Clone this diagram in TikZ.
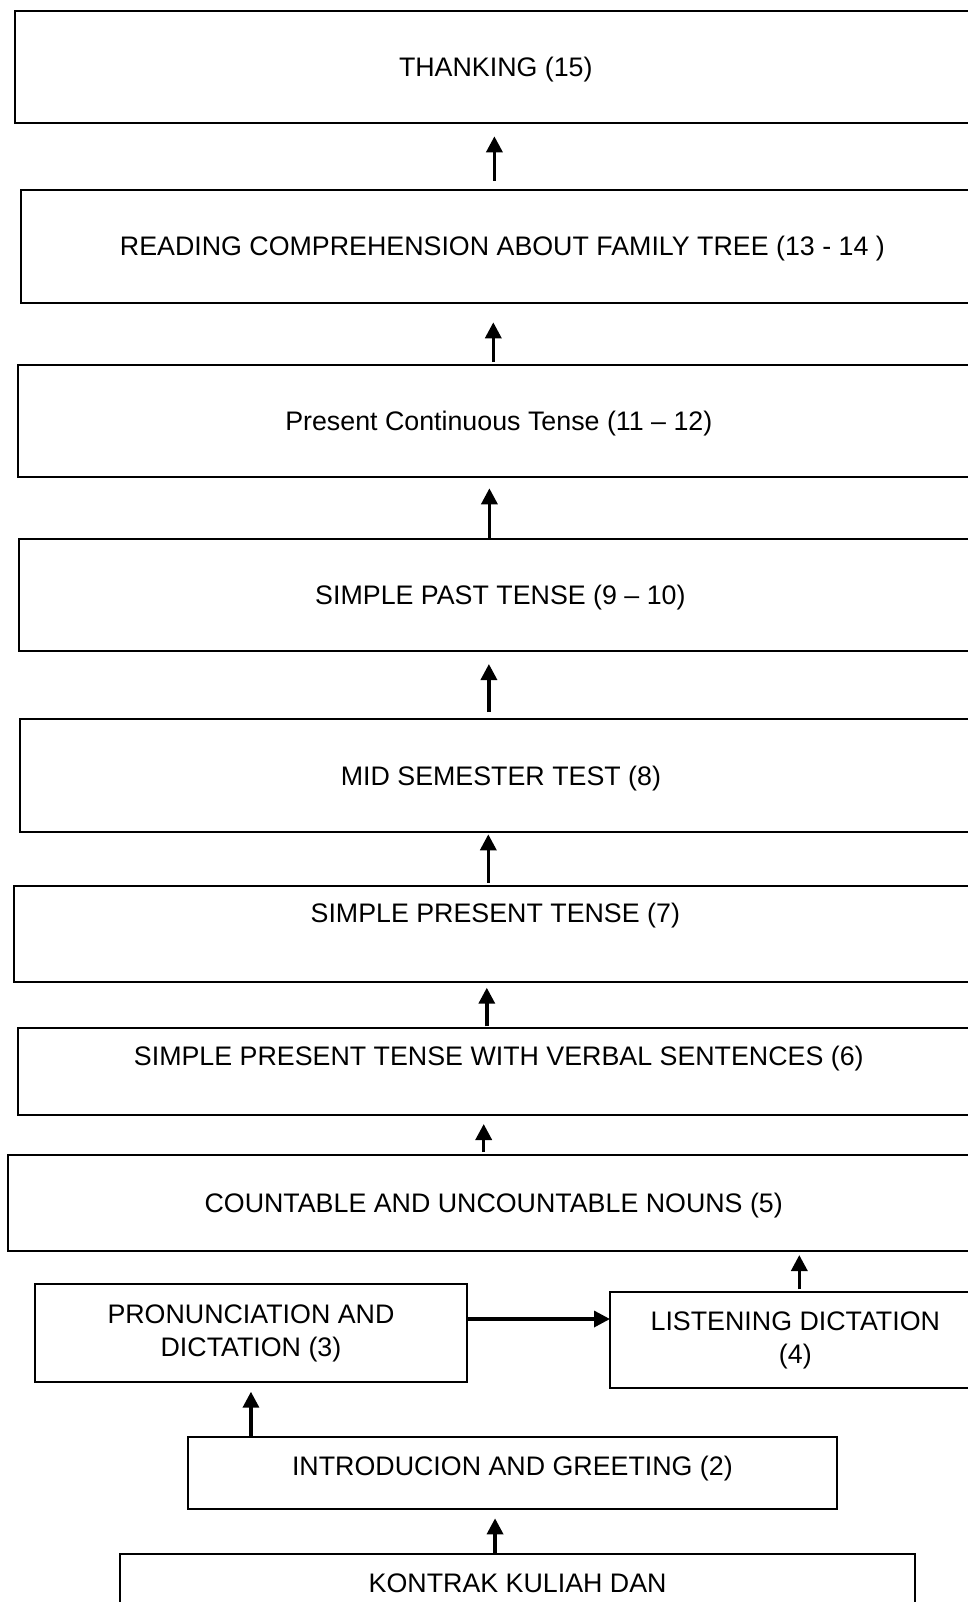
\documentclass[tikz,border=0pt]{standalone}
\usepackage{fontspec}
\setmainfont{Liberation Sans}
\usetikzlibrary{arrows.meta}
\begin{document}
\begin{tikzpicture}[
        x=1pt, y=-1pt,
        box/.style={rectangle, draw=black, line width=2pt, anchor=north west,
            inner sep=0pt, outer sep=0pt, font=\fontsize{26.8}{33}\selectfont},
        line/.style={text height=19.2pt, text depth=#1},
        line/.default=0pt,
        arrow/.style={-{Triangle[width=16pt,length=16pt]}, line width=3.4pt}
    ]
    \useasboundingbox (0,0) rectangle (968,1602);
    \clip (0,0) rectangle (968,1602);
    % Nodes
    \node[box, line, minimum width=962.2pt, minimum height=112.3pt] (thank) at (14.7,11) {THANKING (15)};
    \node[box, line, minimum width=962.2pt, minimum height=112.7pt] (read) at (21.3,190) {READING COMPREHENSION ABOUT FAMILY TREE (13 - 14 )};
    \node[box, line, minimum width=960.8pt, minimum height=112.3pt] (pres) at (18.4,365) {Present Continuous Tense (11 – 12)};
    \node[box, line, minimum width=962pt, minimum height=112pt] (past) at (19.4,539) {SIMPLE PAST TENSE (9 – 10)};
    \node[box, line, minimum width=961pt, minimum height=113.3pt] (mid) at (20.4,719) {MID SEMESTER TEST (8)};
    \node[box, line=41.8pt, minimum width=962pt, minimum height=96pt] (spres) at (14.3,885.7) {SIMPLE PRESENT TENSE (7)};
    \node[box, line=31.4pt, minimum width=960.8pt, minimum height=86.7pt] (verbal) at (18.4,1028.3) {SIMPLE PRESENT TENSE WITH VERBAL SENTENCES (6)};
    \node[box, line, minimum width=971pt, minimum height=96pt] (count) at (8.2,1155) {COUNTABLE AND UNCOUNTABLE NOUNS (5)};
    \node[box, align=center, minimum width=432.7pt, minimum height=97.4pt] (pron) at (34.6,1284.3) {PRONUNCIATION AND\\DICTATION (3)};
    \node[box, align=center, minimum width=370.6pt, minimum height=96pt] (listen) at (610,1292.3) {LISTENING DICTATION\\(4)};
    \node[box, line=14.8pt, minimum width=648.2pt, minimum height=72.3pt] (intro) at (188.3,1437) {INTRODUCION AND GREETING (2)};
    \node[box, line=39.2pt, minimum width=794.5pt, minimum height=96pt] (kontrak) at (120.4,1554) {KONTRAK KULIAH DAN};
    % Edges
    \draw[arrow, shorten <=9pt, shorten >=13pt] ([xshift=-8pt]read.north) -- ([xshift=-8pt]read.north |- thank.south);
    \draw[arrow, shorten <=3pt, shorten >=19.6pt] ([xshift=-5.5pt]pres.north) -- ([xshift=-5.5pt]pres.north |- read.south);
    \draw[arrow, shorten >=11pt] ([xshift=-11pt]past.north) -- ([xshift=-11pt]past.north |- pres.south);
    \draw[arrow, shorten <=7pt, shorten >=13pt] ([xshift=-12pt]mid.north) -- ([xshift=-12pt]mid.north |- past.south);
    \draw[arrow, shorten <=3pt, shorten >=2pt] ([xshift=-7pt]spres.north) -- ([xshift=-7pt]spres.north |- mid.south);
    \draw[arrow, shorten <=2pt, shorten >=6pt] ([xshift=-12pt]verbal.north) -- ([xshift=-12pt]verbal.north |- spres.south);
    \draw[arrow, shorten <=3pt, shorten >=9pt] ([xshift=-10pt]count.north) -- ([xshift=-10pt]count.north |- verbal.south);
    \draw[arrow, shorten <=3pt, shorten >=4pt] ([xshift=4pt]listen.north) -- ([xshift=4pt]listen.north |- count.south);
    \draw[arrow] ([yshift=14pt]pron.east) -- ([yshift=14pt]pron.east -| listen.west);
    \draw[arrow, shorten >=10pt] (intro.north -| pron.south) -- (pron.south);
    \draw[arrow, shorten >=9pt] ([xshift=-22.6pt]kontrak.north) -- ([xshift=-22.6pt]kontrak.north |- intro.south);
\end{tikzpicture}
\end{document}
